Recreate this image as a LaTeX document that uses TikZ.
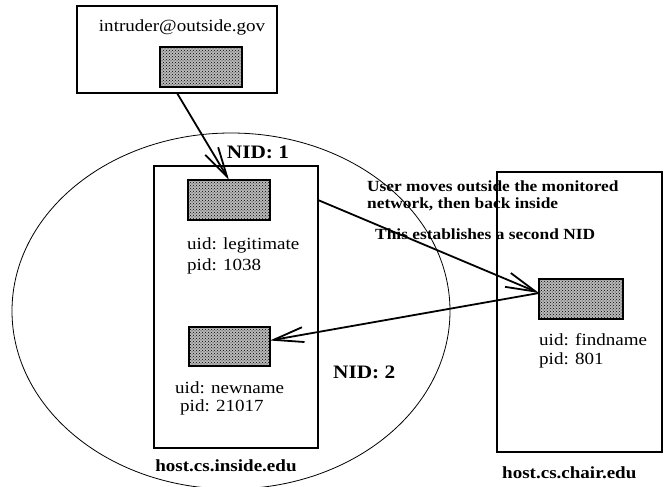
\documentclass[tikz,border=0pt]{standalone}
\usepackage{fontspec}
\setmainfont{Liberation Serif}[FakeStretch=1.12]
\usetikzlibrary{arrows.meta,patterns,shapes.geometric}
\begin{document}
\begin{tikzpicture}[x=1pt,y=-1pt,
  box/.style={draw, line width=1.3pt, inner sep=0pt, outer sep=0pt, fill=white},
  hatch/.style={draw, line width=1.6pt, preaction={fill=gray!55}, pattern=crosshatch dots, pattern color=black, inner sep=0pt, outer sep=0pt},
  lbl/.style={font=\fontsize{17}{20}\selectfont, inner sep=0pt, anchor=west},
  pairlbl/.style={font=\fontsize{17}{19}\selectfont, inner sep=0pt, anchor=north west, align=left},
  blbl/.style={font=\fontsize{17}{20}\selectfont\bfseries, inner sep=0pt},
  nidlbl/.style={font=\fontsize{19}{22}\selectfont\bfseries, inner sep=0pt},
  notelbl/.style={font=\fontsize{15.5}{18}\selectfont\bfseries, inner sep=0pt, anchor=west, align=left},
  arr/.style={line width=1.8pt, -{Straight Barb[length=30pt,width=15pt]}}
]
\fill[white] (0,0) rectangle (670,487);
\useasboundingbox (0,0) rectangle (670,487);

% network ellipse
\node[ellipse, draw, line width=0.8pt, minimum width=438pt, minimum height=356pt, inner sep=0pt] (net) at (231,311) {};

% boxes
\node[box, minimum width=200pt, minimum height=87pt] (top) at (177,49.5) {};
\node[box, minimum width=164pt, minimum height=282pt] (inner) at (236,307) {};
\node[box, minimum width=165pt, minimum height=280pt] (chair) at (579.5,312) {};

% hatched process boxes
\node[hatch, minimum width=82pt, minimum height=40pt] (h0) at (201,67) {};
\node[hatch, minimum width=82pt, minimum height=40pt] (h1) at (229,200) {};
\node[hatch, minimum width=81pt, minimum height=39pt] (h2) at (229.5,346.5) {};
\node[hatch, minimum width=84pt, minimum height=40pt] (h3) at (581,299) {};

% texts
\node[lbl, anchor=center] (t0) at (182,27) {intruder@outside.gov};
\node[nidlbl] (nid1) at (258,152) {NID: 1};
\node[pairlbl, font=\fontsize{17}{21}\selectfont] (id1) at (187,238) {uid: legitimate\\pid: 1038};
\node[pairlbl, font=\fontsize{17}{17.5}\selectfont] (id2) at (175,382) {uid: newname\\\hspace*{5pt}pid: 21017};
\node[blbl] (host1) at (226,466) {host.cs.inside.edu};
\node[nidlbl, anchor=west] (nid2) at (333,372) {NID: 2};
\node[notelbl] (note1) at (367,196) {User moves outside the monitored\\[-1pt]network, then back inside};
\node[notelbl] (note2) at (375,234) {This establishes a second NID};
\node[pairlbl, font=\fontsize{17}{19}\selectfont] (id3) at (539,333) {uid: findname\\pid: 801};
\node[blbl, anchor=west] (host2) at (502,473) {host.cs.chair.edu};

% connectors
\draw[arr] (top.south) -- (h1.north);
\draw[arr] (h1 -| inner.east) -- ([yshift=6pt]h3.west);
\draw[arr] ([yshift=6pt]h3.west) -- ([yshift=6pt]h2.east);
\end{tikzpicture}
\end{document}
